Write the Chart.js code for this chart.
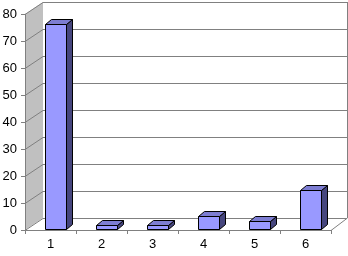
<!DOCTYPE html>
<html>
<head>
<meta charset="utf-8">
<script src="https://cdn.jsdelivr.net/npm/chart.js@4"></script>
<style>
  html, body { margin: 0; padding: 0; background: #fff; }
  #wrap { width: 348px; height: 256px; }
</style>
</head>
<body>
<div id="wrap"><canvas id="myChart" width="348" height="256"></canvas></div>
<script>
// data
const categories = ["1", "2", "3", "4", "5", "6"];
const values = [76, 1.5, 1.5, 5, 3, 14.3];
const yMax = 80;
const yStep = 10;

// 3d look
const wallDx = 18, wallDy = -12;
const barDx = 6, barDy = -5;
const barShiftX = 5, barShiftY = -1;

const walls3d = {
  id: "walls3d",
  beforeDraw(chart) {
    const ctx = chart.ctx;
    const a = chart.chartArea;
    const y = chart.scales.y;
    const y0 = y.getPixelForValue(0);
    const yTop = y.getPixelForValue(yMax);
    const backRight = a.right + 16;
    ctx.save();
    ctx.lineWidth = 1;
    // back wall
    ctx.fillStyle = "#ffffff";
    ctx.fillRect(a.left + wallDx, yTop + wallDy, backRight - a.left - wallDx, y0 - yTop);
    // left wall
    ctx.beginPath();
    ctx.moveTo(a.left, y0);
    ctx.lineTo(a.left, yTop);
    ctx.lineTo(a.left + wallDx, yTop + wallDy);
    ctx.lineTo(a.left + wallDx, y0 + wallDy);
    ctx.closePath();
    ctx.fillStyle = "#c0c0c0";
    ctx.fill();
    // grid lines on walls
    ctx.strokeStyle = "#808080";
    for (let v = 0; v <= yMax; v += yStep) {
      const py = Math.round(y.getPixelForValue(v)) + 0.5;
      ctx.beginPath();
      ctx.moveTo(a.left, py);
      ctx.lineTo(a.left + wallDx, py + wallDy);
      ctx.lineTo(backRight, py + wallDy);
      ctx.stroke();
    }
    // back wall right edge and floor edge
    ctx.beginPath();
    ctx.moveTo(backRight + 0.5, yTop + wallDy);
    ctx.lineTo(backRight + 0.5, y0 + wallDy);
    ctx.lineTo(a.right, y0 + 0.5);
    ctx.stroke();
    ctx.restore();
  },
  afterDatasetsDraw(chart) {
    const ctx = chart.ctx;
    const meta = chart.getDatasetMeta(0);
    ctx.save();
    ctx.lineWidth = 1;
    ctx.strokeStyle = "#000000";
    ctx.lineJoin = "round";
    meta.data.forEach(function (bar) {
      const w = bar.width;
      const L = Math.round(bar.x - w / 2 + barShiftX) + 0.5;
      const R = Math.round(bar.x + w / 2 + barShiftX) + 0.5;
      const T = Math.round(bar.y + barShiftY) + 0.5;
      const B = Math.round(bar.base + barShiftY) + 0.5;
      // side
      ctx.beginPath();
      ctx.moveTo(R, T);
      ctx.lineTo(R + barDx, T + barDy);
      ctx.lineTo(R + barDx, B + barDy);
      ctx.lineTo(R, B);
      ctx.closePath();
      ctx.fillStyle = "#46467e";
      ctx.fill();
      ctx.stroke();
      // top
      ctx.beginPath();
      ctx.moveTo(L, T);
      ctx.lineTo(L + barDx, T + barDy);
      ctx.lineTo(R + barDx, T + barDy);
      ctx.lineTo(R, T);
      ctx.closePath();
      ctx.fillStyle = "#7d7dd2";
      ctx.fill();
      ctx.stroke();
      // front
      ctx.beginPath();
      ctx.rect(L, T, R - L, B - T);
      ctx.fillStyle = "#9999ff";
      ctx.fill();
      ctx.stroke();
    });
    ctx.restore();
  }
};

new Chart("myChart", {
  type: "bar",
  data: {
    labels: categories,
    datasets: [{
      data: values,
      backgroundColor: "rgba(0,0,0,0)",
      borderWidth: 0,
      barPercentage: 0.41,
      categoryPercentage: 1
    }]
  },
  options: {
    responsive: false,
    animation: false,
    layout: { padding: { top: 14, right: 17, left: 0, bottom: 0 } },
    plugins: {
      legend: { display: false },
      tooltip: { enabled: false }
    },
    scales: {
      x: {
        grid: { drawOnChartArea: false, tickLength: 4, color: "#808080", offset: true },
        border: { color: "#808080" },
        ticks: { color: "#000", padding: 3, font: { family: "'Liberation Sans', Arial", size: 13 } },
        afterFit(scale) { scale.height = 26; }
      },
      y: {
        min: 0,
        max: yMax,
        grid: { drawOnChartArea: false, tickLength: 4, color: "#808080" },
        border: { color: "#808080" },
        ticks: { stepSize: yStep, color: "#000", padding: 4, font: { family: "'Liberation Sans', Arial", size: 13 } },
        afterFit(scale) { scale.width = 25; }
      }
    }
  },
  plugins: [walls3d]
});
</script>
</body>
</html>
